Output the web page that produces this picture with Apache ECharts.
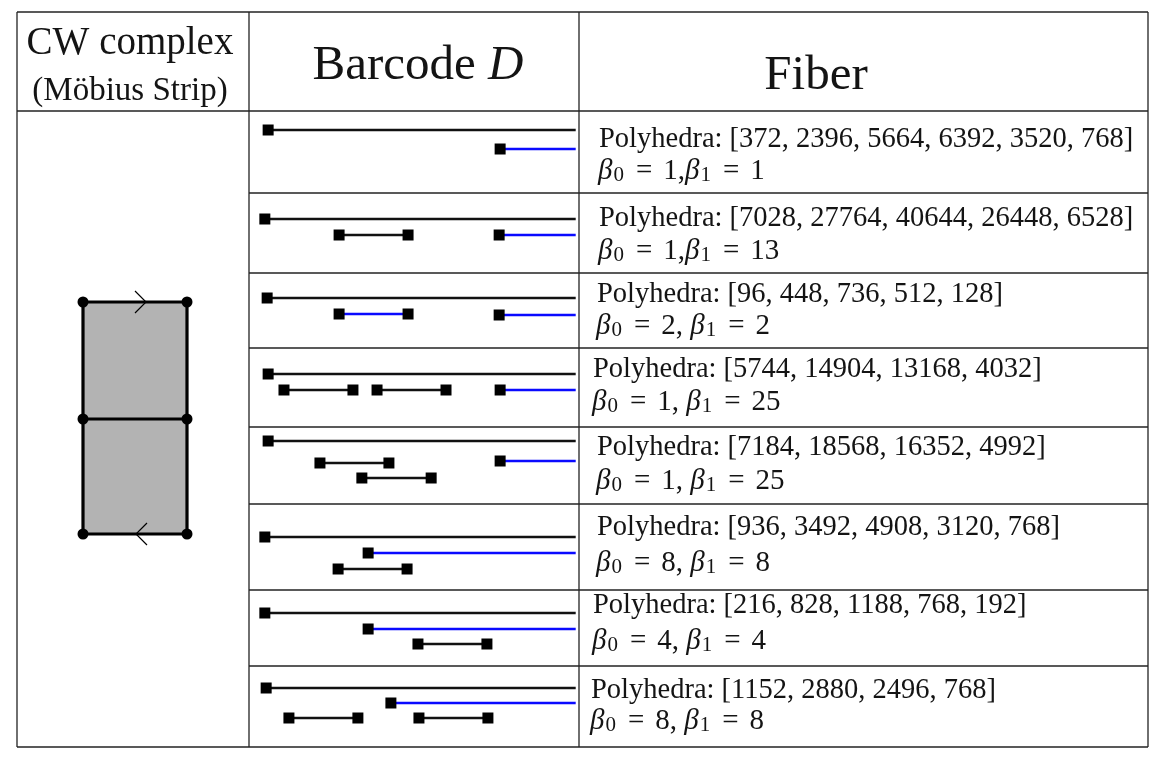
<!DOCTYPE html>
<html lang="en">
<head>
    <meta charset="UTF-8">
    <title>Barcode table</title>
    <script src="https://cdn.jsdelivr.net/npm/echarts@6/dist/echarts.min.js"></script>
    <style>
        html, body { margin: 0; padding: 0; background: #fff; }
        #chart { width: 1168px; height: 759px; }
    </style>
</head>
<body>
<div id="chart"></div>
<script>
    // ---- data ----
    // one entry per bar: table row, birth, death (null = never dies), lane level, colour group
    var barRow   = [0, 0,  1, 1, 1,  2, 2, 2,  3, 3, 3, 3,  4, 4, 4, 4,  5, 5, 5,  6, 6, 6,  7, 7, 7, 7];
    var barBirth = [5.8, 76.1,  4.8, 27.3, 75.8,  5.5, 27.3, 75.8,  5.8, 10.6, 38.8, 76.1,
                    5.8, 21.5, 76.1, 34.2,  4.8, 36.1, 27.0,  4.8, 36.1, 51.2,  5.2, 43.0, 12.1, 51.5];
    var barDeath = [null, null,  null, 48.2, null,  null, 48.2, null,  null, 31.5, 59.7, null,
                    null, 42.4, null, 55.2,  null, null, 47.9,  null, null, 72.1,  null, null, 33.0, 72.4];
    var barLevel = [19, 38,  108, 124, 124,  187, 203, 204,  263, 279, 279, 279,
                    330, 352, 350, 367,  426, 442, 458,  502, 518, 533,  577, 592, 607, 607];
    var barGroup = [0, 1,  0, 0, 1,  0, 1, 1,  0, 0, 0, 1,  0, 0, 1, 0,  0, 1, 0,  0, 1, 0,  0, 1, 0, 0];

    var polyhedra = [
        [372, 2396, 5664, 6392, 3520, 768],
        [7028, 27764, 40644, 26448, 6528],
        [96, 448, 736, 512, 128],
        [5744, 14904, 13168, 4032],
        [7184, 18568, 16352, 4992],
        [936, 3492, 4908, 3120, 768],
        [216, 828, 1188, 768, 192],
        [1152, 2880, 2496, 768]
    ];
    var beta0 = [1, 1, 2, 1, 1, 8, 4, 8];
    var beta1 = [1, 13, 2, 25, 25, 8, 4, 8];
    var betaSep = [',', ',', ', ', ', ', ', ', ', ', ', ', ', '];

    var headers = ['CW complex', '(Möbius Strip)', 'Barcode ', 'D', 'Fiber'];

    // ---- layout ----
    var T = { left: 17, right: 1148, top: 12, bottom: 747, col1: 249, col2: 579, head: 111 };
    var rowLines = [193, 273, 348, 427, 504, 590, 666];
    var textX = [599, 599, 597, 593, 597, 597, 593, 591];
    var polyY = [140, 219, 295, 370, 448, 528, 606, 691];
    var betaY = [171, 251, 326, 402, 481, 563, 641, 721];
    var INF_END = 99;
    var SERIF = '"Liberation Serif", "DejaVu Serif", serif';
    var lineColor = '#222';
    var ink = '#141414';

    var chart = echarts.init(document.getElementById('chart'));

    var barData = barBirth.map(function (b, i) {
        var finite = barDeath[i] !== null;
        return [b, finite ? barDeath[i] : INF_END, barLevel[i], finite ? 1 : 0, barGroup[i], barRow[i]];
    });

    var g = [];
    function hline(x1, x2, y) {
        g.push({ type: 'line', shape: { x1: x1, y1: y, x2: x2, y2: y }, style: { stroke: lineColor, lineWidth: 1.3 } });
    }
    function vline(x, y1, y2) {
        g.push({ type: 'line', shape: { x1: x, y1: y1, x2: x, y2: y2 }, style: { stroke: lineColor, lineWidth: 1.3 } });
    }
    hline(T.left, T.right, T.top);
    hline(T.left, T.right, T.bottom);
    hline(T.left, T.right, T.head);
    vline(T.left, T.top, T.bottom);
    vline(T.right, T.top, T.bottom);
    vline(T.col1, T.top, T.bottom);
    vline(T.col2, T.top, T.bottom);
    rowLines.forEach(function (y) { hline(T.col1, T.right, y); });

    // headers
    function txt(x, y, s, size, align) {
        g.push({ type: 'text', style: { text: s, x: x, y: y, fill: ink, font: size + 'px ' + SERIF, align: align || 'center', verticalAlign: 'middle' } });
    }
    txt(130, 44, headers[0], 39);
    txt(130, 91, headers[1], 33);
    g.push({
        type: 'text',
        style: {
            x: 418, y: 66, align: 'center', verticalAlign: 'middle',
            text: '{r|' + headers[2] + '}{i|' + headers[3] + '}',
            rich: {
                r: { fontFamily: SERIF, fontSize: 49, fill: ink },
                i: { fontFamily: SERIF, fontSize: 49, fontStyle: 'italic', fill: ink }
            }
        }
    });
    txt(816, 76, headers[4], 49);

    // fiber column
    var betaRich = {
        b: { fontFamily: SERIF, fontSize: 29, fontStyle: 'italic', fill: ink, lineHeight: 30 },
        s: { fontFamily: SERIF, fontSize: 21, fill: ink, lineHeight: 14, verticalAlign: 'bottom', padding: [0, 1, 0, 1] },
        e: { fontFamily: SERIF, fontSize: 29, fill: ink, lineHeight: 30, padding: [0, 11, 0, 11] },
        n: { fontFamily: SERIF, fontSize: 29, fill: ink, lineHeight: 30 }
    };
    polyhedra.forEach(function (p, i) {
        txt(textX[i], polyY[i], 'Polyhedra: [' + p.join(', ') + ']', 28.5, 'left');
        var s = '{b|β}{s|0}{e|=}{n|' + beta0[i] + betaSep[i] + '}{b|β}{s|1}{e|=}{n|' + beta1[i] + '}';
        g.push({ type: 'text', style: { x: textX[i] - 1, y: betaY[i], align: 'left', verticalAlign: 'middle', text: s, rich: betaRich } });
    });

    // Möbius strip cell
    var mx1 = 83, mx2 = 187, my1 = 302, my2 = 534, mym = 419;
    g.push({ type: 'rect', shape: { x: mx1, y: my1, width: mx2 - mx1, height: my2 - my1 },
        style: { fill: '#b3b3b3', stroke: '#000', lineWidth: 3.2 } });
    g.push({ type: 'line', shape: { x1: mx1, y1: mym, x2: mx2, y2: mym }, style: { stroke: '#000', lineWidth: 3.2 } });
    [[mx1, my1], [mx2, my1], [mx1, mym], [mx2, mym], [mx1, my2], [mx2, my2]].forEach(function (c) {
        g.push({ type: 'circle', shape: { cx: c[0], cy: c[1], r: 5.5 }, style: { fill: '#000' } });
    });
    g.push({ type: 'polyline', shape: { points: [[135, 291], [146, 302], [135, 313]] }, style: { stroke: '#000', lineWidth: 1.2, fill: null } });
    g.push({ type: 'polyline', shape: { points: [[147, 523], [136, 534], [147, 545]] }, style: { stroke: '#000', lineWidth: 1.2, fill: null } });

    var option = {
        backgroundColor: '#fff',
        animation: false,
        grid: { left: T.col1, top: T.head, width: T.col2 - T.col1, height: T.bottom - T.head },
        xAxis: { type: 'value', min: 0, max: 100, show: false },
        yAxis: { type: 'value', min: 0, max: T.bottom - T.head, inverse: true, show: false },
        graphic: g,
        series: [{
            type: 'custom',
            clip: false,
            data: barData,
            renderItem: function (params, api) {
                var p0 = api.coord([api.value(0), api.value(2)]);
                var p1 = api.coord([api.value(1), api.value(2)]);
                var col = api.value(4) === 1 ? '#0a0aff' : '#111';
                var sq = 11;
                var kids = [
                    { type: 'line', shape: { x1: p0[0], y1: p0[1], x2: p1[0], y2: p1[1] }, style: { stroke: col, lineWidth: 2.4 } },
                    { type: 'rect', shape: { x: p0[0] - sq / 2, y: p0[1] - sq / 2, width: sq, height: sq }, style: { fill: '#000' } }
                ];
                if (api.value(3) === 1) {
                    kids.push({ type: 'rect', shape: { x: p1[0] - sq / 2, y: p1[1] - sq / 2, width: sq, height: sq }, style: { fill: '#000' } });
                }
                return { type: 'group', children: kids };
            }
        }]
    };
    chart.setOption(option);
</script>
</body>
</html>
